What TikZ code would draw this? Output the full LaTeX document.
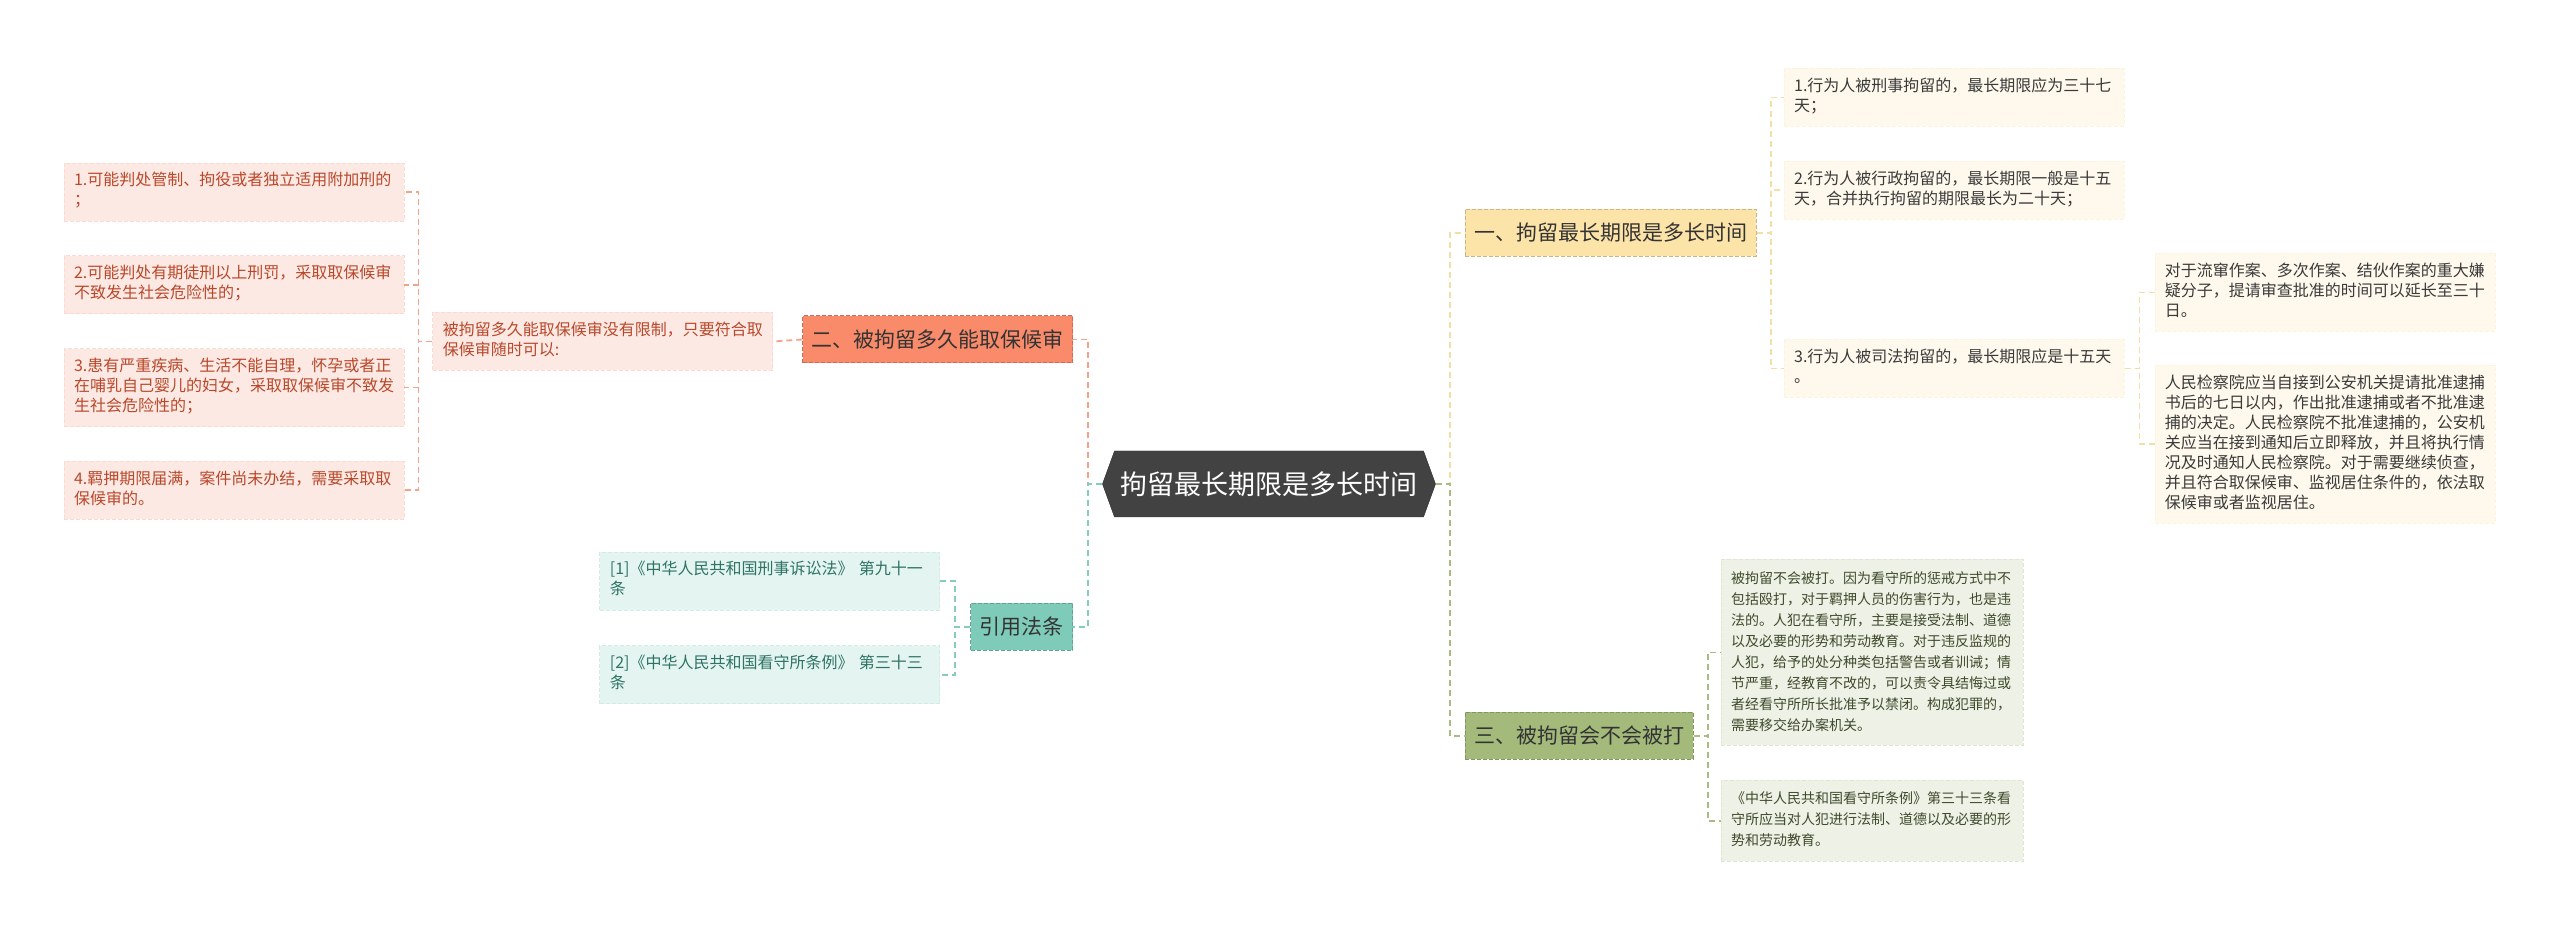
\documentclass[tikz,border=0pt]{standalone}
\usepackage{fontspec}
\newfontfamily\cjk{Noto Sans CJK SC}
\usetikzlibrary{positioning, shapes.symbols}

\definecolor{hubgray}{HTML}{424242}
\definecolor{oneyel}{HTML}{FCE3A8}
\definecolor{twored}{HTML}{F98B6B}
\definecolor{citeteal}{HTML}{7FCBB9}
\definecolor{threegreen}{HTML}{A4BA7B}
\definecolor{leafred}{HTML}{FDE9E3}
\definecolor{leafteal}{HTML}{E4F4F1}
\definecolor{leafyel}{HTML}{FEF9EC}
\definecolor{leafgreen}{HTML}{EEF1E5}
\definecolor{txtred}{HTML}{B8482B}
\definecolor{txtteal}{HTML}{2E7365}
\definecolor{txtgray}{HTML}{3A3A3A}
\definecolor{txtgreen}{HTML}{3E4A2C}
\definecolor{lnred}{HTML}{F4A38B}
\definecolor{lnteal}{HTML}{86CCBE}
\definecolor{lnyel}{HTML}{F2DFA6}
\definecolor{lngreen}{HTML}{A9BC82}

\begin{document}
\begin{tikzpicture}[
    node distance=30pt,
    hub/.style={signal, signal to=west and east, signal pointer angle=140, fill=hubgray, draw=hubgray!70!black, text=white, font=\cjk\fontsize{27}{32}\selectfont, minimum height=66pt, inner xsep=6pt},
    topic/.style={rectangle, draw, dash pattern=on 4pt off 2pt, line width=1pt, minimum height=47pt, inner xsep=9pt, font=\cjk\fontsize{21}{25}\selectfont, text=black!80},
    leaf/.style={rectangle, draw, dash pattern=on 4pt off 2pt, line width=0.8pt, text width=320pt, align=left, inner xsep=10pt, inner ysep=9pt, font=\cjk\fontsize{16}{20}\selectfont, execute at begin node=\strut, execute at end node=\strut},
    gleaf/.style={leaf, text width=282pt, font=\cjk\fontsize{14}{21}\selectfont, fill=leafgreen, draw=leafgreen!80!lngreen, text=txtgreen},
    link/.style={dash pattern=on 6pt off 4pt, line width=1.8pt}
]
\useasboundingbox (-1269pt,-441pt) rectangle (1291pt,484pt);

% Center
\node[hub] (center) at (0,0) {拘留最长期限是多长时间};

% Topics
\node[topic, fill=twored, draw=twored!80!black, left=29pt of center, yshift=144.5pt] (two) {二、被拘留多久能取保候审};
\node[topic, fill=citeteal, draw=citeteal!80!black, left=29pt of center, yshift=-143pt] (cite) {引用法条};
\node[topic, fill=oneyel, draw=oneyel!80!black, right=29pt of center, yshift=251pt] (one) {一、拘留最长期限是多长时间};
\node[topic, fill=threegreen, draw=threegreen!80!black, right=29pt of center, yshift=-252pt] (three) {三、被拘留会不会被打};

% Left: bail
\node[leaf, fill=leafred, draw=leafred!80!lnred, text=txtred, left=29pt of two, yshift=-2pt] (lm) {被拘留多久能取保候审没有限制，只要符合取\\保候审随时可以:};
\node[leaf, fill=leafred, draw=leafred!80!lnred, text=txtred, left=28pt of lm, yshift=149.5pt] (l1) {1.可能判处管制、拘役或者独立适用附加刑的\\；};
\node[leaf, fill=leafred, draw=leafred!80!lnred, text=txtred, below=34pt of l1] (l2) {2.可能判处有期徒刑以上刑罚，采取取保候审\\不致发生社会危险性的；};
\node[leaf, fill=leafred, draw=leafred!80!lnred, text=txtred, below=34pt of l2] (l3) {3.患有严重疾病、生活不能自理，怀孕或者正\\在哺乳自己婴儿的妇女，采取取保候审不致发\\生社会危险性的；};
\node[leaf, fill=leafred, draw=leafred!80!lnred, text=txtred, below=34pt of l3] (l4) {4.羁押期限届满，案件尚未办结，需要采取取\\保候审的。};

% Left: laws
\node[leaf, fill=leafteal, draw=leafteal!80!lnteal, text=txtteal, left=30pt of cite, yshift=46pt] (r1) {[1]《中华人民共和国刑事诉讼法》 第九十一\\条};
\node[leaf, fill=leafteal, draw=leafteal!80!lnteal, text=txtteal, below=35pt of r1] (r2) {[2]《中华人民共和国看守所条例》 第三十三\\条};

% Right: time limits
\node[leaf, fill=leafyel, draw=leafyel!80!lnyel, text=txtgray, right=27pt of one, yshift=135.5pt] (y1) {1.行为人被刑事拘留的，最长期限应为三十七\\天；};
\node[leaf, fill=leafyel, draw=leafyel!80!lnyel, text=txtgray, below=34pt of y1] (y2) {2.行为人被行政拘留的，最长期限一般是十五\\天，合并执行拘留的期限最长为二十天；};
\node[leaf, fill=leafyel, draw=leafyel!80!lnyel, text=txtgray, right=27pt of one, yshift=-135.5pt] (y3) {3.行为人被司法拘留的，最长期限应是十五天\\。};
\node[leaf, fill=leafyel, draw=leafyel!80!lnyel, text=txtgray, right=30pt of y3, yshift=76pt] (z1) {对于流窜作案、多次作案、结伙作案的重大嫌\\疑分子，提请审查批准的时间可以延长至三十\\日。};
\node[leaf, fill=leafyel, draw=leafyel!80!lnyel, text=txtgray, below=33pt of z1] (z2) {人民检察院应当自接到公安机关提请批准逮捕\\书后的七日以内，作出批准逮捕或者不批准逮\\捕的决定。人民检察院不批准逮捕的，公安机\\关应当在接到通知后立即释放，并且将执行情\\况及时通知人民检察院。对于需要继续侦查，\\并且符合取保候审、监视居住条件的，依法取\\保候审或者监视居住。};

% Right: beating
\node[gleaf, right=27pt of three, yshift=83.5pt] (g1) {被拘留不会被打。因为看守所的惩戒方式中不\\包括殴打，对于羁押人员的伤害行为，也是违\\法的。人犯在看守所，主要是接受法制、道德\\以及必要的形势和劳动教育。对于违反监规的\\人犯，给予的处分种类包括警告或者训诫；情\\节严重，经教育不改的，可以责令具结悔过或\\者经看守所所长批准予以禁闭。构成犯罪的，\\需要移交给办案机关。};
\node[gleaf, below=34pt of g1] (g2) {《中华人民共和国看守所条例》第三十三条看\\守所应当对人犯进行法制、道德以及必要的形\\势和劳动教育。};

% Connections
\draw[link, lnred] (center.west) -- ++(-14pt,0) |- (two.east);
\draw[link, lnteal] (center.west) -- ++(-14pt,0) |- (cite.east);
\draw[link, lnyel] (center.east) -- ++(14pt,0) |- (one.west);
\draw[link, lngreen] (center.east) -- ++(14pt,0) |- (three.west);

\draw[link, lnred] (two.west) -- (lm.east);
\draw[link, lnred] (lm.west) -- ++(-14pt,0) |- (l1.east);
\draw[link, lnred] (lm.west) -- ++(-14pt,0) |- (l2.east);
\draw[link, lnred] (lm.west) -- ++(-14pt,0) |- (l3.east);
\draw[link, lnred] (lm.west) -- ++(-14pt,0) |- (l4.east);

\draw[link, lnteal] (cite.west) -- ++(-15pt,0) |- (r1.east);
\draw[link, lnteal] (cite.west) -- ++(-15pt,0) |- (r2.east);

\draw[link, lnyel] (one.east) -- ++(14pt,0) |- (y1.west);
\draw[link, lnyel] (one.east) -- ++(14pt,0) |- (y2.west);
\draw[link, lnyel] (one.east) -- ++(14pt,0) |- (y3.west);
\draw[link, lnyel] (y3.east) -- ++(15pt,0) |- (z1.west);
\draw[link, lnyel] (y3.east) -- ++(15pt,0) |- (z2.west);

\draw[link, lngreen] (three.east) -- ++(14pt,0) |- (g1.west);
\draw[link, lngreen] (three.east) -- ++(14pt,0) |- (g2.west);

\end{tikzpicture}
\end{document}
